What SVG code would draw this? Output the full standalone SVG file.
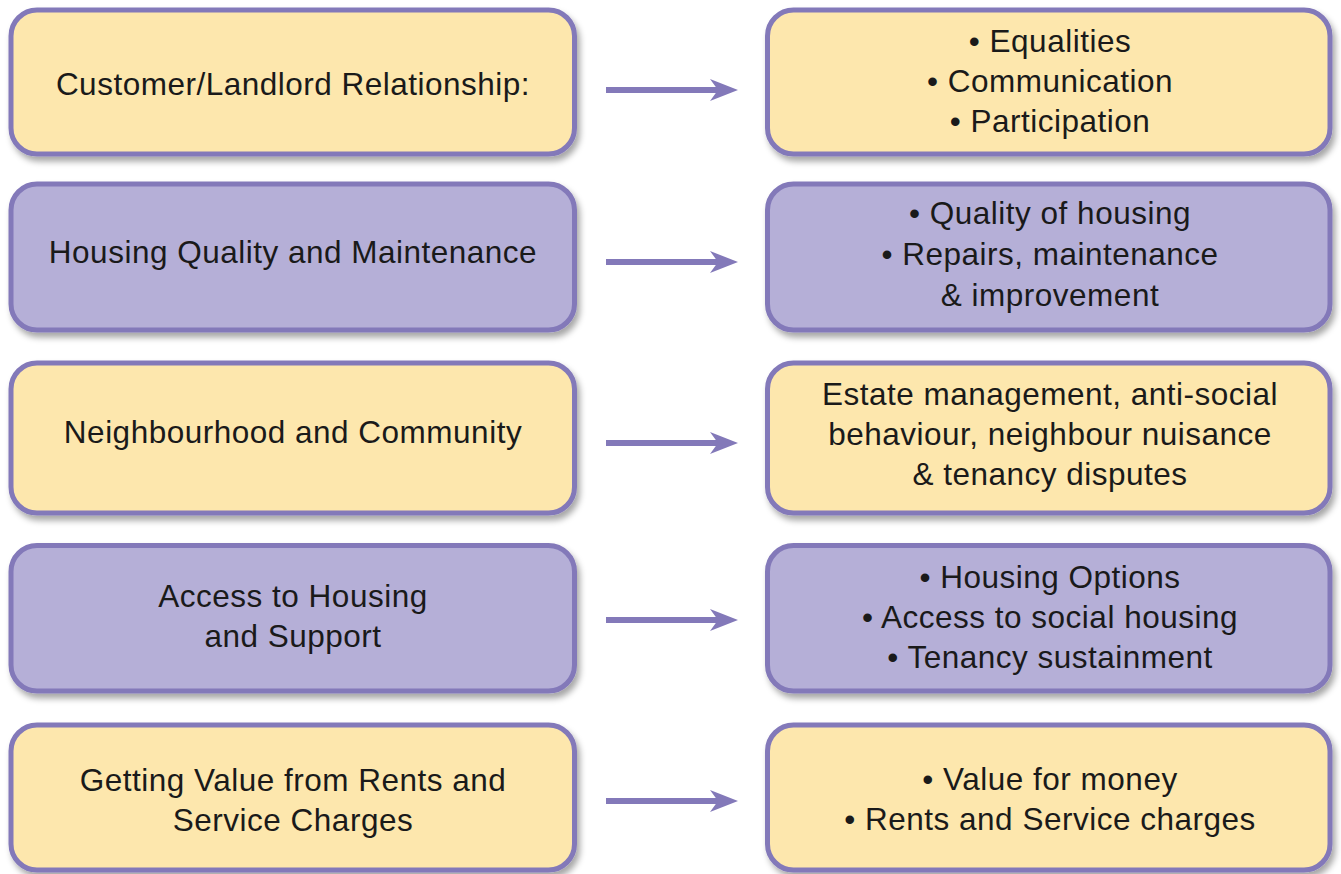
<svg xmlns="http://www.w3.org/2000/svg" width="1341" height="874" viewBox="0 0 1341 874">
  <style>
    .box { stroke: #8379b9; stroke-width: 5; filter: url(#shadow); }
    .yellow { fill: #fde7ad; }
    .purple { fill: #b5afd7; }
    text { font-family: "Liberation Sans", Arial, sans-serif; font-size: 31.5px; letter-spacing: 0.5px; fill: #1a1a1a; text-anchor: middle; }
    .arrow { stroke: #8379b9; stroke-width: 6; fill: none; }
    .head { fill: #8379b9; }
  </style>
  <defs>
    <filter id="shadow" x="-5%" y="-10%" width="115%" height="130%">
      <feDropShadow dx="3" dy="5" stdDeviation="3" flood-color="#000" flood-opacity="0.35"/>
    </filter>
  </defs>
  <rect width="1341" height="874" fill="#ffffff"/>

  <!-- row 1 -->
  <g id="customer-landlord">
    <rect class="box yellow" x="11" y="10" width="563.5" height="144" rx="26"/>
    <text x="293" y="95">Customer/Landlord Relationship:</text>
  </g>
  <g id="customer-landlord-topics">
    <rect class="box yellow" x="767.5" y="10" width="562.5" height="144" rx="26"/>
    <text x="1050" y="52">• Equalities</text>
    <text x="1050" y="92">• Communication</text>
    <text x="1050" y="132">• Participation</text>
  </g>

  <!-- row 2 -->
  <g id="housing-quality">
    <rect class="box purple" x="11" y="184" width="563.5" height="146" rx="26"/>
    <text x="293" y="263">Housing Quality and Maintenance</text>
  </g>
  <g id="housing-quality-topics">
    <rect class="box purple" x="767.5" y="184" width="562.5" height="146" rx="26"/>
    <text x="1050" y="224">• Quality of housing</text>
    <text x="1050" y="265">• Repairs, maintenance</text>
    <text x="1050" y="306">&amp; improvement</text>
  </g>

  <!-- row 3 -->
  <g id="neighbourhood">
    <rect class="box yellow" x="11" y="363" width="563.5" height="150" rx="26"/>
    <text x="293" y="443">Neighbourhood and Community</text>
  </g>
  <g id="neighbourhood-topics">
    <rect class="box yellow" x="767.5" y="363" width="562.5" height="150" rx="26"/>
    <text x="1050" y="405">Estate management, anti-social</text>
    <text x="1050" y="445">behaviour, neighbour nuisance</text>
    <text x="1050" y="485">&amp; tenancy disputes</text>
  </g>

  <!-- row 4 -->
  <g id="access-housing">
    <rect class="box purple" x="11" y="545.5" width="563.5" height="145.5" rx="26"/>
    <text x="293" y="607">Access to Housing</text>
    <text x="293" y="647">and Support</text>
  </g>
  <g id="access-housing-topics">
    <rect class="box purple" x="767.5" y="545.5" width="562.5" height="145.5" rx="26"/>
    <text x="1050" y="588">• Housing Options</text>
    <text x="1050" y="628">• Access to social housing</text>
    <text x="1050" y="668">• Tenancy sustainment</text>
  </g>

  <!-- row 5 -->
  <g id="value-rents">
    <rect class="box yellow" x="11" y="725" width="563.5" height="145" rx="26"/>
    <text x="293" y="791">Getting Value from Rents and</text>
    <text x="293" y="831">Service Charges</text>
  </g>
  <g id="value-rents-topics">
    <rect class="box yellow" x="767.5" y="725" width="562.5" height="145" rx="26"/>
    <text x="1050" y="790">• Value for money</text>
    <text x="1050" y="830">• Rents and Service charges</text>
  </g>

  <!-- connectors -->
  <g id="connectors">
    <g>
      <line class="arrow" x1="606" y1="90" x2="720" y2="90"/>
      <path class="head" d="M738 90 L710 79 L718 90 L710 101 Z"/>
    </g>
    <g>
      <line class="arrow" x1="606" y1="262" x2="720" y2="262"/>
      <path class="head" d="M738 262 L710 251 L718 262 L710 273 Z"/>
    </g>
    <g>
      <line class="arrow" x1="606" y1="443" x2="720" y2="443"/>
      <path class="head" d="M738 443 L710 432 L718 443 L710 454 Z"/>
    </g>
    <g>
      <line class="arrow" x1="606" y1="620" x2="720" y2="620"/>
      <path class="head" d="M738 620 L710 609 L718 620 L710 631 Z"/>
    </g>
    <g>
      <line class="arrow" x1="606" y1="801" x2="720" y2="801"/>
      <path class="head" d="M738 801 L710 790 L718 801 L710 812 Z"/>
    </g>
  </g>
</svg>
